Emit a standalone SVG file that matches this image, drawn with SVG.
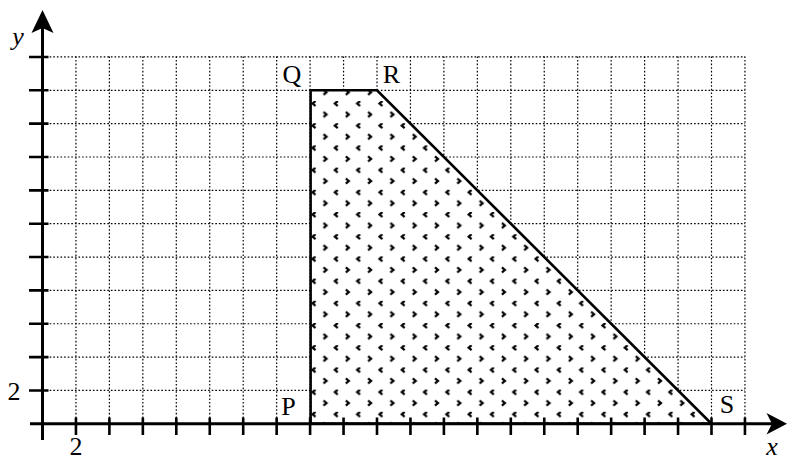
<svg xmlns="http://www.w3.org/2000/svg" width="791" height="460" viewBox="0 0 791 460">
<style>
.grid{stroke:#000;stroke-width:1.2;stroke-dasharray:1.6 2;fill:none}
.axis{stroke:#000;stroke-width:3;fill:none}
.tick{stroke:#000;stroke-width:2.6;fill:none}
.shape{stroke:#000;stroke-width:2.6;fill:url(#dots)}
.lbl{font-size:26px;fill:#000}
.it{font-style:italic}
</style>
<defs>
<pattern id="dots" patternUnits="userSpaceOnUse" x="311" y="101" width="22.3" height="22.2">
<rect width="22.3" height="22.2" fill="#fff"/>
<path d="M4.5,0 L1.5,2.5 L4.5,5" stroke="#000" stroke-width="2.2" fill="none"/>
<path d="M12.5,11 L15.5,13.5 L12.5,16" stroke="#000" stroke-width="2.2" fill="none"/>
</pattern>
</defs>
<g id="grid">
<path class="grid" d="M75.95,56.4V423.8M109.4,56.4V423.8M142.85,56.4V423.8M176.3,56.4V423.8M209.75,56.4V423.8M243.2,56.4V423.8M276.65,56.4V423.8M310.1,56.4V423.8M343.55,56.4V423.8M377,56.4V423.8M410.45,56.4V423.8M443.9,56.4V423.8M477.35,56.4V423.8M510.8,56.4V423.8M544.25,56.4V423.8M577.7,56.4V423.8M611.15,56.4V423.8M644.6,56.4V423.8M678.05,56.4V423.8M711.5,56.4V423.8M744.95,56.4V423.8"/>
<path class="grid" d="M42.5,390.45H745M42.5,357.1H745M42.5,323.75H745M42.5,290.4H745M42.5,257.05H745M42.5,223.7H745M42.5,190.35H745M42.5,157H745M42.5,123.65H745M42.5,90.3H745M42.5,56.95H745"/>
</g>
<g id="region">
<polygon class="shape" points="310.6,423.8 310.6,90.3 377,90.3 711.5,423.8"/>
</g>
<g id="axes">
<path class="axis" d="M30,423.8H772"/>
<path class="axis" d="M42.5,440V28"/>
<polygon points="787,423.8 766.5,413 772,423.8 766.5,434.6" fill="#000"/>
<polygon points="42.5,10 31.5,33 42.5,28 53.5,33" fill="#000"/>
<path class="tick" d="M75.95,417.5V435M109.4,417.5V435M142.85,417.5V435M176.3,417.5V435M209.75,417.5V435M243.2,417.5V435M276.65,417.5V435M310.1,417.5V435M343.55,417.5V435M377,417.5V435M410.45,417.5V435M443.9,417.5V435M477.35,417.5V435M510.8,417.5V435M544.25,417.5V435M577.7,417.5V435M611.15,417.5V435M644.6,417.5V435M678.05,417.5V435M711.5,417.5V435M744.95,417.5V435"/>
<path class="tick" d="M29,390.45H48.5M29,357.1H48.5M29,323.75H48.5M29,290.4H48.5M29,257.05H48.5M29,223.7H48.5M29,190.35H48.5M29,157H48.5M29,123.65H48.5M29,90.3H48.5M29,56.95H48.5"/>
</g>
<g id="labels" font-family="Liberation Serif, serif">
<text class="lbl it" x="18" y="45" text-anchor="middle">y</text>
<text class="lbl it" x="772" y="455" text-anchor="middle">x</text>
<text class="lbl" x="76" y="455" text-anchor="middle">2</text>
<text class="lbl" x="14" y="400" text-anchor="middle">2</text>
<text class="lbl" x="292" y="83" text-anchor="middle">Q</text>
<text class="lbl" x="391.5" y="83" text-anchor="middle">R</text>
<text class="lbl" x="288.5" y="415" text-anchor="middle">P</text>
<text class="lbl" x="727" y="413" text-anchor="middle">S</text>
</g>
</svg>
